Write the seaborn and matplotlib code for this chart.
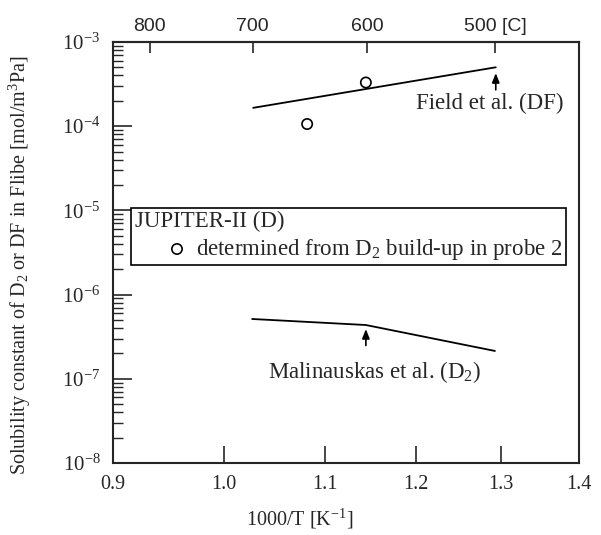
import numpy as np
import matplotlib
matplotlib.use("Agg")
import matplotlib.pyplot as plt
import matplotlib.ticker as mticker
import seaborn as sns

# data
field_x = [1.028, 1.294]
field_y = [1.65e-4, 5.0e-4]
malin_x = [1.027, 1.144, 1.293]
malin_y = [5.13e-7, 4.35e-7, 2.14e-7]
jup_x = [1.082, 1.144]
jup_y = [1.06e-4, 3.3e-4]
x_ticks = [0.9, 1.0, 1.1, 1.2, 1.3, 1.4]
top_celsius = [800, 700, 600, 500]
top_labels = ["800", "700", "600", "500 [C]"]

sns.set_style("ticks")
plt.rcParams["font.family"] = ["Liberation Serif", "DejaVu Serif"]
plt.rcParams["mathtext.fontset"] = "custom"
plt.rcParams["mathtext.rm"] = "Liberation Serif"
plt.rcParams["mathtext.it"] = "Liberation Serif:italic"
plt.rcParams["axes.linewidth"] = 1.5

fig = plt.figure(figsize=(6.01, 5.35), dpi=100)
ax = fig.add_axes([0.188, 0.1346, 0.775, 0.787])

sns.lineplot(x=field_x, y=field_y, ax=ax, color="k", lw=1.3, sort=False)
sns.lineplot(x=malin_x, y=malin_y, ax=ax, color="k", lw=1.3, sort=False)
sns.scatterplot(x=jup_x, y=jup_y, ax=ax, marker="o", s=55, facecolor="none",
                edgecolor="k", linewidth=1.2,
                label="determined from D$_2$ build-up in probe 2")

ax.set_xscale("log")
ax.set_yscale("log")
ax.set_xlim(0.9, 1.4)
ax.set_ylim(1e-8, 1e-3)

ax.xaxis.set_major_locator(mticker.FixedLocator(x_ticks))
ax.xaxis.set_major_formatter(mticker.FixedFormatter([f"{v:.1f}" for v in x_ticks]))
ax.xaxis.set_minor_locator(mticker.NullLocator())
ax.yaxis.set_major_locator(mticker.LogLocator(base=10, numticks=10))
ax.yaxis.set_minor_locator(mticker.LogLocator(base=10, subs=np.arange(2, 10), numticks=10))
ax.yaxis.set_minor_formatter(mticker.NullFormatter())

ax.tick_params(axis="x", which="major", direction="in", length=12, width=1.2,
               labelsize=14.5, pad=9, top=False)
ax.tick_params(axis="y", which="major", direction="in", length=14, width=1.2,
               labelsize=15, pad=9, right=False)
ax.tick_params(axis="y", which="minor", direction="in", length=7, width=1.0, right=False)

# top axis in Celsius
top = ax.secondary_xaxis("top", functions=(lambda v: v, lambda v: v))
top.xaxis.set_major_locator(mticker.FixedLocator([1000 / (c + 273.15) for c in top_celsius]))
top.xaxis.set_major_formatter(mticker.FixedFormatter(top_labels))
top.xaxis.set_minor_locator(mticker.NullLocator())
top.tick_params(direction="in", length=8, width=1.2, labelsize=14, pad=5)
for t in top.get_xticklabels():
    t.set_fontfamily("Liberation Sans")
top.spines["top"].set_linewidth(1.5)

ax.set_xlabel("1000/T [K$^{-1}$]", fontsize=14.5)
ax.xaxis.set_label_coords(0.40, -0.105)
ax.set_ylabel("Solubility constant of D$_2$ or DF in Flibe [mol/m$^3$Pa]", fontsize=14.5)
ax.yaxis.set_label_coords(-0.172, 0.47)

# annotations
arrow = dict(arrowstyle="-|>,head_length=0.55,head_width=0.22", color="k", lw=1.2)
ax.annotate("", xy=(1.294, 4.6e-4), xytext=(1.294, 2.5e-4), arrowprops=arrow)
ax.text(1.287, 1.85e-4, "Field et al. (DF)", ha="center", va="center", fontsize=16.5)
ax.annotate("", xy=(1.144, 4.2e-7), xytext=(1.144, 2.3e-7), arrowprops=arrow)
ax.text(1.153, 1.2e-7, "Malinauskas et al. (D$_2$)", ha="center", va="center", fontsize=16.5)

leg = ax.legend(title="JUPITER-II (D)", loc="upper left", bbox_to_anchor=(0.039, 0.606),
                fontsize=16.5, title_fontsize=16.5, alignment="left", fancybox=False,
                framealpha=1, edgecolor="k", borderpad=0.15, handletextpad=-1.0,
                handlelength=3.7, borderaxespad=0, labelspacing=0.2)
leg.get_frame().set_linewidth(1.2)

fig.savefig("out.png", dpi=100)
